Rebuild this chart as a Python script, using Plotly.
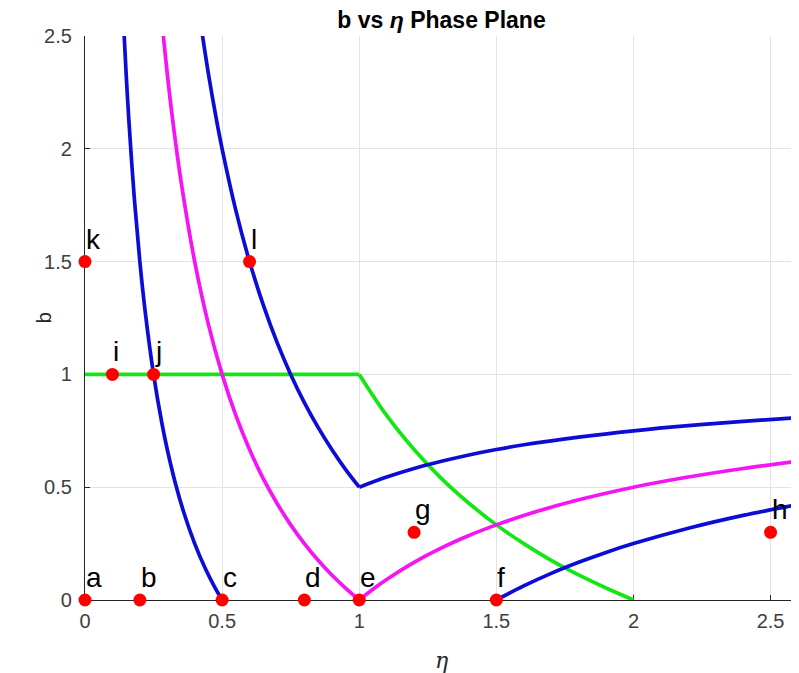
import plotly.graph_objects as go

# ---- data ----
# blue curve (left branch, eta < 0.5)
blue1_eta = [0.14, 0.15, 0.16, 0.18, 0.20, 0.22, 0.25, 0.28, 0.30, 0.33, 0.36, 0.40, 0.44, 0.47, 0.50]
blue1_b   = [2.571, 2.333, 2.125, 1.778, 1.5, 1.273, 1.0, 0.786, 0.667, 0.515, 0.389, 0.25, 0.136, 0.064, 0.0]

# magenta curve, left and right branches
mag_l_eta = [0.28, 0.30, 0.32, 0.35, 0.40, 0.45, 0.50, 0.55, 0.60, 0.65, 0.70, 0.75, 0.80, 0.85, 0.90, 0.95, 1.00]
mag_l_b   = [2.571, 2.333, 2.125, 1.857, 1.5, 1.222, 1.0, 0.818, 0.667, 0.538, 0.429, 0.333, 0.25, 0.176, 0.111, 0.053, 0.0]
mag_r_eta = [1.0, 1.05, 1.1, 1.2, 1.3, 1.4, 1.5, 1.6, 1.8, 2.0, 2.2, 2.4, 2.6]
mag_r_b   = [0.0, 0.048, 0.091, 0.167, 0.231, 0.286, 0.333, 0.375, 0.444, 0.5, 0.545, 0.583, 0.615]

# blue curve with the kink at eta = 1
blue2_l_eta = [0.42, 0.45, 0.48, 0.50, 0.55, 0.60, 0.65, 0.70, 0.75, 0.80, 0.85, 0.90, 0.95, 1.00]
blue2_l_b   = [2.571, 2.333, 2.125, 2.0, 1.727, 1.5, 1.308, 1.143, 1.0, 0.875, 0.765, 0.667, 0.579, 0.5]
blue2_r_eta = [1.0, 1.1, 1.2, 1.3, 1.4, 1.5, 1.6, 1.8, 2.0, 2.2, 2.4, 2.6]
blue2_r_b   = [0.5, 0.545, 0.583, 0.615, 0.643, 0.667, 0.688, 0.722, 0.75, 0.773, 0.792, 0.808]

# blue curve starting at eta = 1.5
blue3_eta = [1.5, 1.6, 1.7, 1.8, 1.9, 2.0, 2.2, 2.4, 2.6]
blue3_b   = [0.0, 0.0625, 0.118, 0.167, 0.211, 0.25, 0.318, 0.375, 0.423]

# green boundary
green_flat_eta = [0.0, 1.0]
green_flat_b   = [1.0, 1.0]
green_down_eta = [1.0, 1.1, 1.2, 1.3, 1.4, 1.5, 1.6, 1.7, 1.8, 1.9, 2.0]
green_down_b   = [1.0, 0.818, 0.667, 0.538, 0.429, 0.333, 0.25, 0.176, 0.111, 0.053, 0.0]

# labelled points
pt_labels = ["a", "b", "c", "d", "e", "f", "g", "h", "i", "j", "k", "l"]
pt_eta    = [0.0, 0.2, 0.5, 0.8, 1.0, 1.5, 1.2, 2.5, 0.1, 0.25, 0.0, 0.6]
pt_b      = [0.0, 0.0, 0.0, 0.0, 0.0, 0.0, 0.3, 0.3, 1.0, 1.0, 1.5, 1.5]

x_ticks = [0, 0.5, 1, 1.5, 2, 2.5]
y_ticks = [0, 0.5, 1, 1.5, 2, 2.5]

BLUE = "#0c0cd6"
MAG = "#f414f4"
GREEN = "#14e614"
FONT = "Liberation Sans, Arial, sans-serif"

fig = go.Figure()

def curve(x, y, color):
    fig.add_trace(go.Scatter(x=x, y=y, mode="lines",
                             line=dict(color=color, width=3.7, shape="spline", smoothing=1.0),
                             showlegend=False, hoverinfo="skip"))

fig.add_trace(go.Scatter(x=green_flat_eta, y=green_flat_b, mode="lines",
                         line=dict(color=GREEN, width=3.7), showlegend=False))
curve(green_down_eta, green_down_b, GREEN)
curve(blue1_eta, blue1_b, BLUE)
curve(blue2_l_eta, blue2_l_b, BLUE)
curve(blue2_r_eta, blue2_r_b, BLUE)
curve(blue3_eta, blue3_b, BLUE)
curve(mag_l_eta, mag_l_b, MAG)
curve(mag_r_eta, mag_r_b, MAG)

fig.add_trace(go.Scatter(x=pt_eta, y=pt_b, mode="markers",
                         marker=dict(color="#ff0000", size=13, line=dict(width=0)),
                         cliponaxis=False, showlegend=False))

for lab, xv, yv in zip(pt_labels, pt_eta, pt_b):
    fig.add_annotation(x=xv, y=yv, text=lab, showarrow=False,
                       xanchor="left", yanchor="bottom", xshift=-1, yshift=5,
                       font=dict(family=FONT, size=28, color="#000000"))

# axis titles
fig.add_annotation(xref="paper", yref="paper", x=0.5, y=-0.107, text="<i>η</i>",
                   showarrow=False, xanchor="center", yanchor="middle",
                   font=dict(family="DejaVu Serif, serif", size=22, color="#262626"))
fig.add_annotation(xref="paper", yref="paper", x=-0.057, y=0.5, text="b", textangle=-90,
                   showarrow=False, xanchor="center", yanchor="middle",
                   font=dict(family=FONT, size=20, color="#262626"))

# the page body has an 8px margin, so the figure is sized/placed to compensate
fig.update_layout(
    width=791, height=665,
    margin=dict(l=77, r=1, t=28, b=73),
    paper_bgcolor="white", plot_bgcolor="white",
    title=dict(text="<b>b vs <i>η</i> Phase Plane</b>", x=0.5, xref="paper", xanchor="center",
               y=1 - 12 / 665, yref="container", yanchor="middle",
               font=dict(family=FONT, size=23, color="#000000")),
    font=dict(family=FONT),
)

fig.update_xaxes(range=[0, 2.6], tickvals=x_ticks, ticktext=[str(v) for v in x_ticks],
                 showgrid=True, gridcolor="#e3e3e3", gridwidth=1,
                 showline=True, linecolor="#262626", linewidth=1.2,
                 ticks="inside", ticklen=5, tickcolor="#262626",
                 tickfont=dict(family=FONT, size=20, color="#404040"),
                 zeroline=False, layer="below traces", ticklabelstandoff=3,
                 fixedrange=True)
fig.update_yaxes(range=[0, 2.5], tickvals=y_ticks, ticktext=[str(v) for v in y_ticks],
                 showgrid=True, gridcolor="#e3e3e3", gridwidth=1,
                 showline=True, linecolor="#262626", linewidth=1.2,
                 ticks="inside", ticklen=5, tickcolor="#262626",
                 tickfont=dict(family=FONT, size=20, color="#404040"),
                 zeroline=False, layer="below traces", ticklabelstandoff=8,
                 fixedrange=True)

fig.write_html("out.html")
